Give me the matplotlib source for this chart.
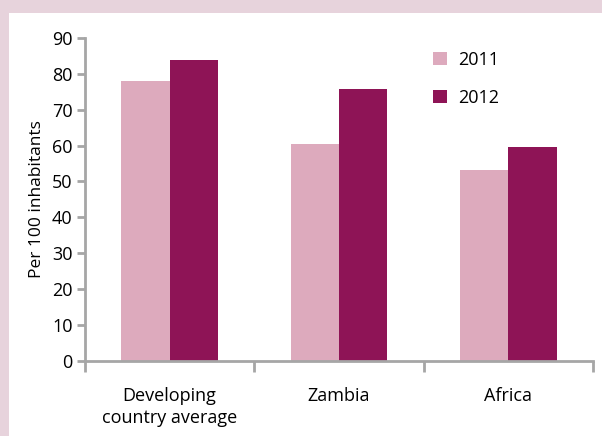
import matplotlib
matplotlib.use("Agg")
import matplotlib.pyplot as plt
from matplotlib.patches import Rectangle
import numpy as np

# ====== DATA ======
categories = ["Developing\ncountry average", "Zambia", "Africa"]
years = ["2011", "2012"]
values_2011 = [78.1, 60.4, 53.3]
values_2012 = [84.0, 75.7, 59.6]
y_ticks = list(range(0, 100, 10))

# ====== STYLE ======
col_2011 = "#DDAABD"
col_2012 = "#8E1456"
frame_col = "#E7D3DC"
axis_col = "#A6A6A6"
W, H = 602, 436

plt.rcParams['font.family'] = ['Open Sans', 'DejaVu Sans']

fig = plt.figure(figsize=(W / 100, H / 100), dpi=100, facecolor=frame_col)
# white panel inside the pink frame (frame only on left and top)
fig.patches.append(Rectangle((9 / W, 0), 1 - 9 / W, 1 - 13 / H, transform=fig.transFigure,
                             facecolor="white", edgecolor="none", zorder=-5))

ax = fig.add_axes([85 / W, 1 - 360.7 / H, (593 - 85) / W, (360.7 - 38) / H], zorder=2)
ax.set_facecolor("none")

x = np.arange(len(categories))
bw = 0.286
ax.bar(x - bw / 2, values_2011, bw, color=col_2011, label=years[0], zorder=2)
ax.bar(x + bw / 2, values_2012, bw, color=col_2012, label=years[1], zorder=2)

ax.set_xlim(-0.5, len(categories) - 0.5)
ax.set_ylim(0, 90)
ax.set_yticks(y_ticks)

for s in ["top", "right"]:
    ax.spines[s].set_visible(False)
for s in ["left", "bottom"]:
    ax.spines[s].set_color(axis_col)
    ax.spines[s].set_linewidth(2)

ax.tick_params(axis="y", length=6, width=2, color=axis_col, labelsize=13, pad=3)
ax.set_xticks(x)
ax.set_xticklabels(categories, fontsize=13, linespacing=1.3)
ax.tick_params(axis="x", which="major", length=0, pad=19)
ax.set_xticks(np.arange(-0.5, len(categories), 1.0), minor=True)
ax.tick_params(axis="x", which="minor", length=8, width=2, color=axis_col)

ax.set_ylabel("Per 100 inhabitants", fontsize=12.5, labelpad=5)

ax.legend(loc="center left", bbox_to_anchor=(417 / W, 1 - 79 / H), bbox_transform=fig.transFigure,
          frameon=False, fontsize=13, handlelength=0.75, handleheight=0.75,
          handletextpad=0.65, labelspacing=1.1)

fig.savefig("out.png", dpi=100, facecolor=fig.get_facecolor())
